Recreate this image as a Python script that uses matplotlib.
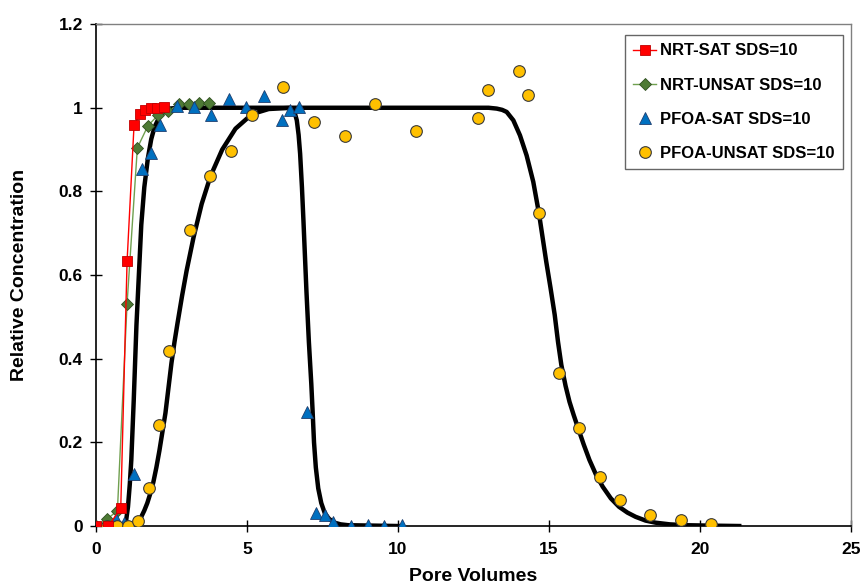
import matplotlib.pyplot as plt

plt.rcParams["font.family"] = ["Liberation Sans", "DejaVu Sans"]
plt.rcParams["font.weight"] = "bold"

# measured breakthrough data (pore volumes, C/C0)
nrt_sat_pv = [0.0, 0.41, 0.82, 1.03, 1.26, 1.45, 1.63, 1.83, 2.03, 2.24]
nrt_sat_c = [0.0, 0.0, 0.042, 0.633, 0.958, 0.985, 0.994, 1.0, 1.0, 1.003]

nrt_unsat_pv = [0.0, 0.38, 0.71, 1.03, 1.37, 1.72, 2.05, 2.4, 2.76, 3.09, 3.42, 3.75]
nrt_unsat_c = [0.0, 0.017, 0.037, 0.532, 0.904, 0.957, 0.982, 0.993, 1.008, 1.008, 1.012, 1.012]

pfoa_sat_pv = [0.35, 0.65, 0.93, 1.25, 1.52, 1.83, 2.12, 2.68, 3.25, 3.82, 4.4, 4.98,
               5.57, 6.15, 6.43, 6.73, 7.0, 7.28, 7.58, 7.85, 8.43, 9.0, 9.55, 10.13]
pfoa_sat_c = [0.0, 0.017, 0.008, 0.124, 0.853, 0.893, 0.958, 1.005, 1.002, 0.982, 1.022, 1.002,
              1.028, 0.971, 0.995, 1.002, 0.272, 0.032, 0.026, 0.01, 0.0, 0.002, 0.0, 0.002]

pfoa_unsat_pv = [0.38, 0.71, 1.06, 1.39, 1.74, 2.08, 2.43, 3.11, 3.79, 4.48, 5.15, 6.18,
                 7.23, 8.24, 9.23, 10.6, 12.65, 12.98, 14.0, 14.32, 14.68, 15.33, 16.01,
                 16.69, 17.36, 18.36, 19.36, 20.37]
pfoa_unsat_c = [0.0, 0.0, 0.0, 0.011, 0.092, 0.241, 0.418, 0.707, 0.836, 0.896, 0.982, 1.05,
                0.965, 0.932, 1.01, 0.944, 0.975, 1.042, 1.088, 1.03, 0.748, 0.366, 0.234,
                0.118, 0.062, 0.026, 0.014, 0.005]

# fitted model curves
fit_sat_pv = [0.92, 0.97, 1.0, 1.06, 1.12, 1.17, 1.25, 1.34, 1.42, 1.5, 1.6, 1.72, 1.83,
              1.94, 2.1, 2.27, 2.45, 2.7, 6.4, 6.5, 6.58, 6.65, 6.71, 6.76, 6.82, 6.87,
              6.92, 6.97, 7.01, 7.05, 7.09, 7.13, 7.17, 7.22, 7.28, 7.36, 7.46, 7.58,
              7.72, 7.9, 8.1, 8.34, 10.0]
fit_sat_c = [0.0, 0.005, 0.014, 0.046, 0.1, 0.158, 0.3, 0.48, 0.6, 0.72, 0.81, 0.88, 0.925,
             0.954, 0.978, 0.992, 0.998, 1.0, 1.0, 0.997, 0.988, 0.97, 0.935, 0.89, 0.81,
             0.73, 0.645, 0.56, 0.5, 0.44, 0.39, 0.34, 0.28, 0.2, 0.14, 0.09, 0.055, 0.03,
             0.017, 0.008, 0.004, 0.002, 0.0]

fit_unsat_pv = [1.2, 1.3, 1.4, 1.5, 1.6, 1.7, 1.8, 1.9, 2.0, 2.1, 2.2, 2.3, 2.4, 2.5, 2.6,
                2.7, 2.85, 3.0, 3.23, 3.5, 3.79, 4.18, 4.62, 5.17, 5.72, 6.5, 13.0, 13.27,
                13.45, 13.6, 13.82, 14.04, 14.26, 14.48, 14.67, 14.91, 15.05, 15.19, 15.3,
                15.41, 15.55, 15.68, 15.82, 15.96, 16.15, 16.34, 16.55, 16.78, 17.05,
                17.32, 17.6, 17.87, 18.2, 18.53, 19.0, 19.5, 20.3, 21.3]
fit_unsat_c = [0.0, 0.004, 0.012, 0.022, 0.037, 0.055, 0.078, 0.105, 0.14, 0.18, 0.225,
               0.27, 0.33, 0.39, 0.44, 0.485, 0.55, 0.61, 0.69, 0.77, 0.836, 0.9, 0.95,
               0.985, 0.997, 1.0, 1.0, 0.998, 0.995, 0.99, 0.97, 0.934, 0.886, 0.823, 0.747,
               0.632, 0.57, 0.505, 0.44, 0.385, 0.335, 0.297, 0.265, 0.235, 0.195, 0.158,
               0.124, 0.094, 0.066, 0.046, 0.032, 0.022, 0.013, 0.008, 0.004, 0.002, 0.001, 0.0]

fig = plt.figure(figsize=(8.67, 5.88), dpi=100)
ax = fig.add_axes([0.1107, 0.1054, 0.8708, 0.8536])

ax.plot(fit_sat_pv, fit_sat_c, color="black", lw=3.2, zorder=2, solid_joinstyle="round")
ax.plot(fit_unsat_pv, fit_unsat_c, color="black", lw=3.2, zorder=2, solid_joinstyle="round")

ax.plot(nrt_sat_pv, nrt_sat_c, color="#FF0000", lw=1.0, marker="s", ms=6.8,
        mfc="#FF0000", mec="#C00000", mew=0.6, label="NRT-SAT SDS=10", zorder=4)
ax.plot(nrt_unsat_pv, nrt_unsat_c, color="#70A050", lw=1.0, marker="D", ms=6.2,
        mfc="#4E7A35", mec="#2F4F1F", mew=0.6, label="NRT-UNSAT SDS=10", zorder=3)
ax.plot(pfoa_sat_pv, pfoa_sat_c, ls="none", marker="^", ms=8.8,
        mfc="#0070C0", mec="#1F3F6F", mew=0.6, label="PFOA-SAT SDS=10", zorder=3)
ax.plot(pfoa_unsat_pv, pfoa_unsat_c, ls="none", marker="o", ms=8.4,
        mfc="#FFC000", mec="#3A3A3A", mew=0.8, label="PFOA-UNSAT SDS=10", zorder=3)

ax.set_xlim(0, 25)
ax.set_ylim(0, 1.2)
ax.set_xticks([0, 5, 10, 15, 20, 25])
ax.set_yticks([0, 0.2, 0.4, 0.6, 0.8, 1.0, 1.2])
ax.set_yticklabels(["0", "0.2", "0.4", "0.6", "0.8", "1", "1.2"])
ax.tick_params(direction="inout", length=9, width=1, labelsize=12.5)
ax.tick_params(axis="x", pad=7)
ax.tick_params(axis="y", pad=5)
for lab in ax.get_xticklabels() + ax.get_yticklabels():
    lab.set_fontweight("bold")

for side in ("left", "bottom"):
    ax.spines[side].set_color("black")
    ax.spines[side].set_linewidth(1.2)
for side in ("top", "right"):
    ax.spines[side].set_color("#808080")
    ax.spines[side].set_linewidth(1.0)

ax.set_xlabel("Pore Volumes", fontsize=14, fontweight="bold", labelpad=8)
ax.set_ylabel("Relative Concentration", fontsize=14, fontweight="bold", labelpad=22)

leg = ax.legend(loc="upper right", bbox_to_anchor=(0.989, 0.978), borderaxespad=0,
                frameon=True, fancybox=False, edgecolor="#404040", borderpad=0.5,
                labelspacing=1.15, handlelength=1.4, handletextpad=0.2,
                prop={"weight": "bold", "size": 12})
leg.get_frame().set_linewidth(1.0)

fig.savefig("out.png", dpi=100)
